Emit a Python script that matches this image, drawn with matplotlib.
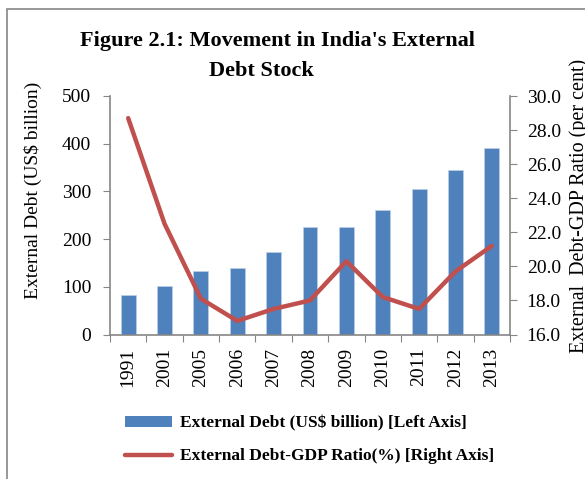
import matplotlib
matplotlib.use("Agg")
import matplotlib.pyplot as plt
from matplotlib.patches import Rectangle, Patch
from matplotlib.lines import Line2D

plt.rcParams['font.family'] = ['Liberation Serif', 'DejaVu Serif']

years = ["1991", "2001", "2005", "2006", "2007", "2008", "2009", "2010", "2011", "2012", "2013"]
external_debt = [83.8, 101.3, 134.0, 139.1, 172.4, 224.4, 224.5, 260.9, 305.9, 345.8, 390.0]
debt_gdp_ratio = [28.7, 22.5, 18.1, 16.8, 17.5, 18.0, 20.3, 18.2, 17.5, 19.7, 21.2]

bar_color = "#4F81BD"
line_color = "#C0504D"
axis_color = "#868686"

W, H = 585, 479
fig = plt.figure(figsize=(W / 100, H / 100), dpi=100)

# outer frame (left and top edges visible)
fig.patches.append(Rectangle((7 / W, -0.05), 1.2, 1 - 9 / H + 0.05, transform=fig.transFigure,
                             fill=False, edgecolor=axis_color, linewidth=1.2))

ax = fig.add_axes([110 / W, 1 - 334.5 / H, 400 / W, (334.5 - 96) / H])
x = list(range(len(years)))
ax.bar(x, external_debt, width=0.41, color=bar_color, edgecolor="#BFD0E6", linewidth=0.5, zorder=2)
ax.set_xlim(-0.5, len(years) - 0.5)
ax.set_ylim(0, 500)
ax.set_yticks([0, 100, 200, 300, 400, 500])
ax.set_xticks([i - 0.5 for i in range(len(years) + 1)], minor=False)
ax.set_xticklabels([])
ax.set_xticks(x, minor=True)
ax.set_xticklabels(years, minor=True, rotation=90, fontsize=14)
ax.tick_params(axis="x", which="major", length=5, color=axis_color, direction="out")
ax.tick_params(axis="x", which="minor", length=0, pad=9.5)
ax.tick_params(axis="y", length=5, color=axis_color, labelsize=14, pad=8.5)
for s in ["top", "right"]:
    ax.spines[s].set_visible(False)
for s in ["left", "bottom"]:
    ax.spines[s].set_color(axis_color)
    ax.spines[s].set_linewidth(1.2)

ax2 = ax.twinx()
ax2.plot(x, debt_gdp_ratio, color=line_color, linewidth=3.2, solid_capstyle="round", zorder=3)
ax2.set_ylim(16, 30)
ratio_ticks = [16, 18, 20, 22, 24, 26, 28, 30]
ax2.set_yticks(ratio_ticks)
ax2.set_yticklabels([f"{v:.1f}" for v in ratio_ticks])
ax2.tick_params(axis="y", length=5, color=axis_color, labelsize=14, pad=7)
for s in ["top", "left", "bottom"]:
    ax2.spines[s].set_visible(False)
ax2.spines["right"].set_color(axis_color)
ax2.spines["right"].set_linewidth(1.2)

# axis titles
fig.text(33 / W, 1 - 190 / H, "External Debt (US$ billion)", rotation=90,
         ha="center", va="center", fontsize=14)
fig.text(579 / W, 1 - 206 / H, "External  Debt-GDP Ratio (per cent)", rotation=90,
         ha="center", va="center", fontsize=14.5)

fig.text(277 / W, 1 - 41 / H, "Figure 2.1: Movement in India's External",
         ha="center", va="center", fontsize=16, fontweight="bold")
fig.text(261 / W, 1 - 71 / H, "Debt Stock",
         ha="center", va="center", fontsize=16, fontweight="bold")

handles = [Patch(facecolor=bar_color, edgecolor="none"),
           Line2D([0], [0], color=line_color, linewidth=3.2, solid_capstyle="round")]
labels = ["External Debt (US$ billion) [Left Axis]",
          "External Debt-GDP Ratio(%) [Right Axis]"]
fig.legend(handles, labels, loc="upper left", bbox_to_anchor=(109 / W, 1 - 400 / H),
           frameon=False, prop={"weight": "bold", "size": 12.5},
           handlelength=2.75, handleheight=0.55, handletextpad=0.45, labelspacing=0.95)

fig.savefig("out.png", dpi=100)
